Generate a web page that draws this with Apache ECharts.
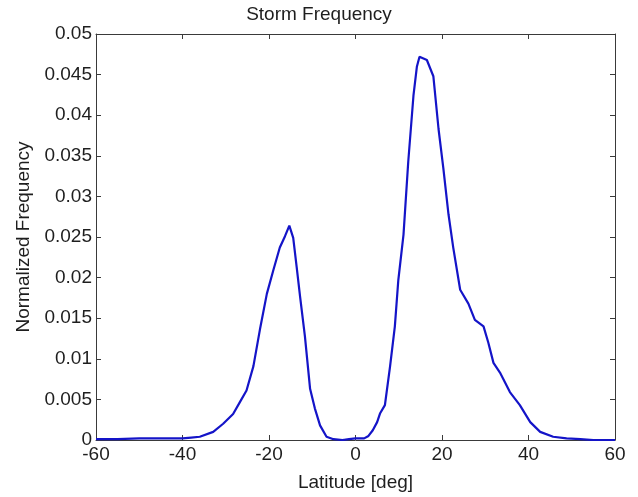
<!DOCTYPE html>
<html>
<head>
<meta charset="utf-8">
<script src="https://cdn.jsdelivr.net/npm/echarts@6/dist/echarts.min.js"></script>
<style>html,body{margin:0;padding:0;background:#fff}#c{width:638px;height:497px}</style>
</head>
<body>
<div id="c"></div>
<script>
var latitude = [-60,-55,-50,-45,-40,-38,-36,-32.9,-30.6,-28.3,-26.7,-25.2,-23.6,-22.1,-20.5,-19,-17.5,-16.3,-15.3,-14.4,-13.6,-12.8,-11.7,-10.5,-9.4,-8.2,-6.7,-5.1,-3,-1.5,0,1,2,3,4,5,5.7,6.8,8,9.1,9.9,11.1,12.2,13.4,14.2,14.8,16.5,18,19.2,20.3,21.5,22.6,24.2,26.1,27.6,29.6,30.7,31.9,33.4,35.7,38,40.4,42.7,45.7,48.8,52,55,60];
var frequency = [0.0001,0.0001,0.0002,0.0002,0.0002,0.0003,0.0004,0.0010,0.0020,0.0032,0.0047,0.0061,0.0091,0.0136,0.0180,0.0209,0.0237,0.0251,0.0264,0.0249,0.0213,0.0176,0.0128,0.0063,0.0039,0.0018,0.0004,0.0001,0.0000,0.0001,0.0002,0.0002,0.0002,0.0005,0.0012,0.0022,0.0033,0.0043,0.0091,0.0140,0.0197,0.0253,0.0343,0.0424,0.0460,0.0472,0.0468,0.0448,0.0383,0.0335,0.0278,0.0237,0.0185,0.0168,0.0148,0.0140,0.0120,0.0095,0.0083,0.0059,0.0043,0.0022,0.0010,0.0004,0.0002,0.0001,0.0000,0.0000];
var xTicks = {min:-60, max:60, step:20};
var yTicks = {min:0, max:0.05, step:0.005};

var font = 'Liberation Sans, Arial, sans-serif';
var axisCol = '#3a3a3a';
var txtCol = '#1e1e1e';
var fs = 19;
var chart = echarts.init(document.getElementById('c'));
function common(){
  return {axisLine:{show:true,onZero:false,lineStyle:{color:axisCol,width:1}},
          axisTick:{show:true,inside:true,length:5,lineStyle:{color:axisCol}},
          splitLine:{show:false}};
}
chart.setOption({
  animation:false,
  backgroundColor:'#fff',
  title:{text:'Storm Frequency', left:'center', top:0, textStyle:{fontFamily:font,fontWeight:'normal',fontSize:fs,color:txtCol}},
  grid:{left:96, right:23, top:34, bottom:52},
  xAxis:[
    Object.assign(common(), {type:'value', min:xTicks.min, max:xTicks.max, interval:xTicks.step, position:'bottom',
      name:'Latitude [deg]', nameLocation:'middle', nameGap:33, nameTextStyle:{fontFamily:font,fontSize:fs,color:txtCol},
      axisLabel:{fontFamily:font,fontSize:fs,color:txtCol,margin:5}}),
    Object.assign(common(), {type:'value', min:xTicks.min, max:xTicks.max, interval:xTicks.step, position:'top', axisLabel:{show:false}})
  ],
  yAxis:[
    Object.assign(common(), {type:'value', min:yTicks.min, max:yTicks.max, interval:yTicks.step, position:'left',
      name:'Normalized Frequency', nameLocation:'middle', nameGap:63, nameTextStyle:{fontFamily:font,fontSize:fs,color:txtCol},
      axisLabel:{fontFamily:font,fontSize:fs,color:txtCol,margin:4}}),
    Object.assign(common(), {type:'value', min:yTicks.min, max:yTicks.max, interval:yTicks.step, position:'right', axisLabel:{show:false}})
  ],
  series:[{type:'line', data:latitude.map(function(x,i){return [x,frequency[i]];}), showSymbol:false,
    lineStyle:{color:'#1414c8', width:2.2}, xAxisIndex:0, yAxisIndex:0}]
});
</script>
</body>
</html>
